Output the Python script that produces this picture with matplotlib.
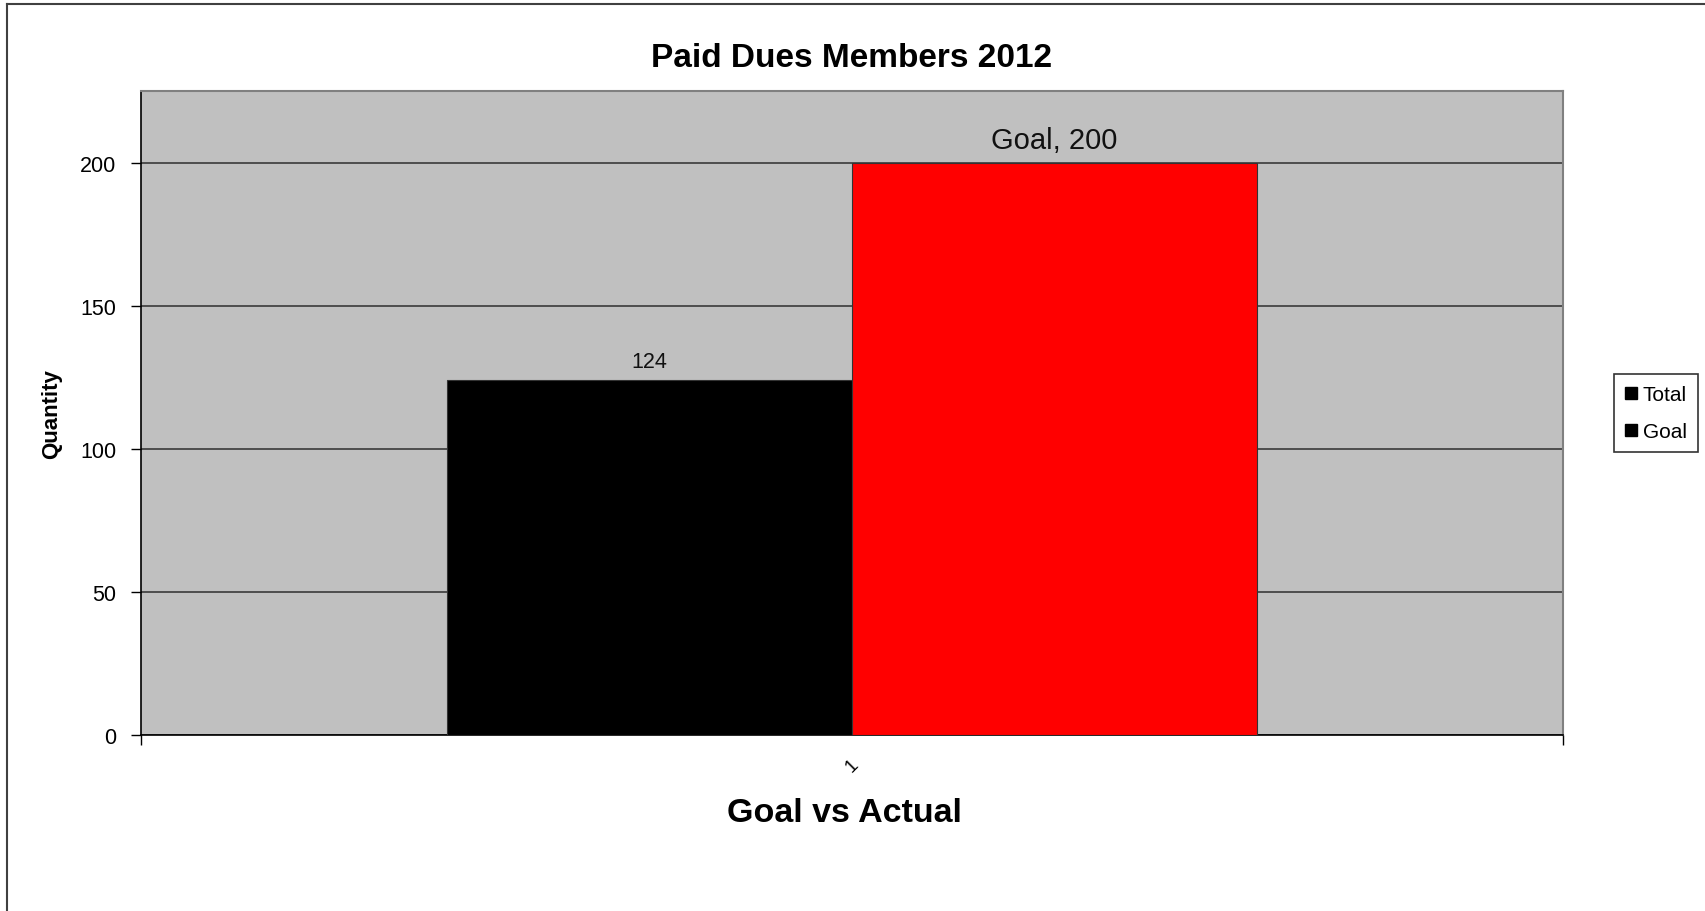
import matplotlib
matplotlib.use("Agg")
import matplotlib.pyplot as plt
from matplotlib.lines import Line2D

plt.rcParams['font.family'] = ['Liberation Sans', 'DejaVu Sans']

# data
categories = ["1"]
series_names = ["Total", "Goal"]
series_values = [124, 200]
series_colors = ["black", "red"]
value_labels = ["124", "Goal, 200"]
yticks = [0, 50, 100, 150, 200]

W, H = 1705, 912
fig = plt.figure(figsize=(W / 100, H / 100), dpi=100)
ax = fig.add_axes([141 / W, 1 - 736 / H, 1422 / W, 644 / H])
ax.set_facecolor("#c0c0c0")

bar_w = 0.285
n = len(series_names)
for k, (name, val, col) in enumerate(zip(series_names, series_values, series_colors)):
    xpos = (k - (n - 1) / 2) * bar_w
    ax.bar(xpos, val, width=bar_w, color=col, edgecolor="#333333",
           linewidth=0.8, label=name, zorder=3)
    # data labels above bars
    fs = 15.5 if k == 0 else 21
    off = 9.4 if k == 0 else 10.8
    ax.annotate(value_labels[k], (xpos, val), xytext=(0, off),
                textcoords="offset points", ha="center", va="baseline",
                fontsize=fs, color="#111111", zorder=4)

ax.set_xlim(-0.5, 0.5)
ax.set_ylim(0, 225)

# gridlines
ax.set_yticks(yticks)
ax.yaxis.grid(True, color="#3a3a3a", linewidth=1.2, zorder=1)
ax.set_axisbelow(True)

ax.tick_params(axis="y", direction="out", length=7, width=1,
               labelsize=15.5, pad=11)
ax.set_xticks([0], categories, rotation=45)
ax.set_xticks([-0.5, 0.5], minor=True)
ax.tick_params(axis="x", which="major", length=0, labelsize=13.5, pad=15)
ax.tick_params(axis="x", which="minor", direction="out", length=7, width=1)

for s in ["left", "bottom"]:
    ax.spines[s].set_color("black")
    ax.spines[s].set_linewidth(1.2)
for s in ["top", "right"]:
    ax.spines[s].set_color("#808080")
    ax.spines[s].set_linewidth(1.5)

ax.set_title("Paid Dues Members 2012", fontsize=24, fontweight="bold", pad=18)
ax.set_ylabel("Quantity", fontsize=16, fontweight="bold")
ax.yaxis.set_label_coords(-0.0556, 0.5)
ax.set_xlabel("Goal vs Actual", fontsize=24.5, fontweight="bold")
ax.xaxis.set_label_coords(0.495, -0.097)

# legend (excel draws both markers black)
handles = [Line2D([], [], marker="s", color="black", linestyle="none",
                  markersize=8.5) for _ in series_names]
leg = fig.legend(handles, series_names, loc="center",
                 bbox_to_anchor=(1656 / W, 1 - 414 / H), fontsize=15,
                 frameon=True, fancybox=False, edgecolor="black",
                 handlelength=0.6, handletextpad=0.25, labelspacing=0.85,
                 borderpad=0.55, borderaxespad=0)
leg.get_frame().set_linewidth(1.2)

# chart area border (left and top visible)
fig.add_artist(Line2D([7 / W, 7 / W], [0, 1 - 5 / H], transform=fig.transFigure,
                      color="#404040", linewidth=1.5))
fig.add_artist(Line2D([7 / W, 1], [1 - 5 / H, 1 - 5 / H], transform=fig.transFigure,
                      color="#404040", linewidth=1.5))

fig.savefig("out.png", dpi=100)
